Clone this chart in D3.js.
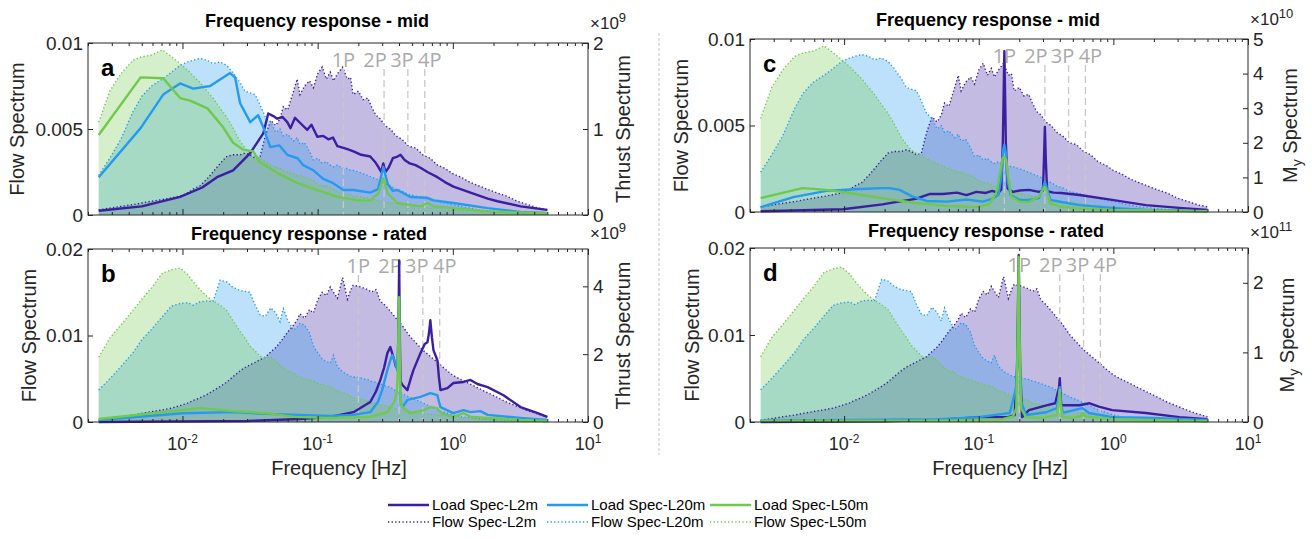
<!DOCTYPE html>
<html>
<head>
<meta charset="utf-8">
<script src="https://cdn.jsdelivr.net/npm/d3@7"></script>
<style>
  body { margin: 0; background: #fff; }
  text { font-family: "Liberation Sans", Arial, sans-serif; fill: #262626; }
</style>
</head>
<body>
<script>
// ---- data ----
var flowFreq = [0.0024,0.0029,0.0035,0.0043,0.005,0.0059,0.0071,0.0083,0.0096,0.011,
  0.012,0.0135,0.0152,0.0168,0.019,0.0212,0.0235,0.0266,0.029,0.0315,
  0.0345,0.0375,0.041,0.045,0.049,0.0527,0.0557,0.06,0.0663,0.0705,
  0.074,0.08,0.087,0.093,0.1,0.108,0.116,0.124,0.131,0.14,
  0.153,0.166,0.175,0.183,0.2,0.217,0.235,0.25,0.27,0.29,
  0.315,0.345,0.38,0.42,0.47,0.53,0.6,0.68,0.77,0.88,
  1.0,1.15,1.34,1.55,1.8,2.1,2.5,3.0,3.6,4.3,5.0];

// flow spectra, mid wind speed (panels a, c)
var flowMidL2 = [0.0003,0.0004,0.0005,0.0006,0.0007,0.0008,0.0009,0.0010,0.0011,0.0013,
  0.0015,0.0017,0.0021,0.0025,0.0030,0.0034,0.0035,0.0035,0.0036,0.0035,
  0.0033,0.0034,0.0046,0.0055,0.0052,0.0056,0.0063,0.0061,0.0072,0.0079,
  0.0070,0.0075,0.0078,0.0074,0.0082,0.0086,0.0079,0.0083,0.0078,0.0082,
  0.0086,0.0079,0.0080,0.0070,0.0072,0.0067,0.0068,0.0063,0.0058,0.0056,
  0.0052,0.0050,0.0046,0.0044,0.0040,0.0039,0.0035,0.0033,0.0029,0.0027,
  0.0024,0.0022,0.0019,0.0017,0.0015,0.0013,0.0011,0.0008,0.0006,0.0004,0.0003];
var flowMidL20 = [0.0023,0.0033,0.0044,0.0060,0.0069,0.0075,0.0079,0.0083,0.0087,0.0089,
  0.0090,0.0091,0.0090,0.0088,0.0089,0.0087,0.0083,0.0077,0.0072,0.0071,
  0.0070,0.0064,0.0057,0.0054,0.0048,0.0050,0.0046,0.0047,0.0043,0.0045,
  0.0041,0.0042,0.0037,0.0032,0.0033,0.0030,0.0031,0.0029,0.0028,0.0029,
  0.0027,0.0027,0.0026,0.0026,0.0025,0.0024,0.0023,0.0022,0.0021,0.0020,
  0.0018,0.0017,0.0015,0.0014,0.0012,0.0011,0.0010,0.0009,0.0008,0.0007,
  0.0006,0.0005,0.0004,0.0003,0.00025,0.0002,0.00015,0.00012,0.0001,0.00007,0.00005];
var flowMidL50 = [0.0054,0.0072,0.0082,0.0090,0.0092,0.0093,0.0096,0.0092,0.0088,0.0084,
  0.0081,0.0077,0.0072,0.0068,0.0062,0.0057,0.0051,0.0043,0.0039,0.0036,
  0.0034,0.0033,0.0031,0.0029,0.0028,0.0027,0.0026,0.0025,0.0024,0.0023,
  0.0023,0.0022,0.0021,0.0020,0.0018,0.0017,0.0017,0.0016,0.0015,0.0014,
  0.0013,0.0012,0.0012,0.0011,0.0011,0.0010,0.0010,0.0009,0.0009,0.0008,
  0.0008,0.0007,0.0007,0.0006,0.0006,0.0005,0.0005,0.0004,0.0004,0.0003,
  0.0003,0.00025,0.0002,0.00018,0.00015,0.00012,0.0001,0.00008,0.00006,0.00005,0.00004];

// flow spectra, rated wind speed (panels b, d)
var flowRatedL2 = [0.0002,0.0004,0.0006,0.0008,0.0010,0.0012,0.0014,0.0016,0.0019,0.0022,
  0.0025,0.0028,0.0032,0.0036,0.0041,0.0046,0.0052,0.0059,0.0063,0.0066,
  0.0069,0.0072,0.0075,0.0081,0.0086,0.0092,0.0097,0.0104,0.0112,0.0118,
  0.0125,0.0120,0.0130,0.0126,0.0141,0.0150,0.0146,0.0156,0.0150,0.0143,
  0.0167,0.0142,0.0152,0.0158,0.0157,0.0155,0.0153,0.0150,0.0153,0.0140,
  0.0135,0.0128,0.0120,0.0112,0.0101,0.0092,0.0083,0.0076,0.0069,0.0061,
  0.0054,0.0049,0.0044,0.0039,0.0034,0.0029,0.0023,0.0018,0.0013,0.0009,0.0006];
var flowRatedL20 = [0.0037,0.0050,0.0064,0.0080,0.0095,0.0107,0.0122,0.0134,0.0137,0.0138,
  0.0135,0.0139,0.0140,0.0139,0.0164,0.0162,0.0156,0.0152,0.0151,0.0150,
  0.0135,0.0124,0.0122,0.0132,0.0126,0.0116,0.0131,0.0118,0.0106,0.0110,
  0.0114,0.0112,0.0103,0.0088,0.0080,0.0073,0.0070,0.0068,0.0077,0.0064,
  0.0058,0.0055,0.0053,0.0052,0.0052,0.0050,0.0049,0.0047,0.0046,0.0044,
  0.0042,0.0040,0.0036,0.0033,0.0029,0.0026,0.0022,0.0018,0.0014,0.0011,
  0.0008,0.0006,0.0005,0.0004,0.0003,0.00025,0.0002,0.00015,0.0001,0.00008,0.00005];
var flowRatedL50 = [0.0075,0.0097,0.0112,0.0129,0.0142,0.0155,0.0172,0.0176,0.0178,0.0170,
  0.0162,0.0153,0.0145,0.0140,0.0135,0.0129,0.0118,0.0105,0.0097,0.0088,
  0.0082,0.0076,0.0074,0.0075,0.0071,0.0066,0.0062,0.0059,0.0057,0.0053,
  0.0052,0.0050,0.0049,0.0047,0.0045,0.0043,0.0042,0.0041,0.0039,0.0036,
  0.0034,0.0032,0.0030,0.0029,0.0027,0.0026,0.0024,0.0022,0.0021,0.0020,
  0.0019,0.0017,0.0015,0.0014,0.0012,0.0011,0.0010,0.0009,0.0008,0.0007,
  0.0006,0.0005,0.0004,0.00035,0.0003,0.00025,0.0002,0.00015,0.0001,0.00008,0.00005];

// load spectra as [frequency, value] in units of the right-axis exponent
var thrustMidL2 = [[0.0024,0.05],[0.005,0.1],[0.0096,0.21],[0.014,0.32],[0.018,0.44],[0.0237,0.52],
  [0.0317,0.72],[0.0396,0.95],[0.0431,1.18],[0.047,1.15],[0.0502,1.12],[0.055,1.14],[0.0596,1.08],
  [0.063,1.01],[0.068,1.13],[0.0743,1.07],[0.0838,0.99],[0.09,1.05],[0.0994,0.91],[0.11,0.92],
  [0.12,0.88],[0.13,0.90],[0.14,0.80],[0.155,0.78],[0.17,0.76],[0.184,0.74],[0.21,0.70],[0.245,0.68],
  [0.265,0.62],[0.281,0.56],[0.295,0.50],[0.306,0.60],[0.317,0.50],[0.335,0.55],[0.36,0.66],
  [0.39,0.68],[0.41,0.70],[0.44,0.64],[0.48,0.60],[0.53,0.58],[0.576,0.55],[0.649,0.50],[0.769,0.44],
  [0.88,0.38],[1.01,0.33],[1.35,0.26],[1.81,0.19],[2.14,0.16],[3.17,0.10],[5.0,0.06]];
var thrustMidL20 = [[0.0024,0.44],[0.0049,1.01],[0.0072,1.40],[0.0096,1.53],[0.012,1.47],[0.016,1.50],
  [0.02,1.60],[0.0225,1.65],[0.0245,1.60],[0.0267,1.30],[0.0317,1.08],[0.0363,1.16],[0.0396,1.02],
  [0.0446,0.79],[0.052,0.81],[0.0596,0.70],[0.071,0.66],[0.078,0.58],[0.093,0.52],[0.11,0.42],
  [0.13,0.37],[0.155,0.29],[0.184,0.29],[0.245,0.26],[0.28,0.30],[0.306,0.56],[0.33,0.36],[0.36,0.28],
  [0.389,0.29],[0.485,0.21],[0.649,0.20],[0.72,0.17],[1.01,0.14],[1.81,0.08],[3.17,0.035],[5.0,0.02]];
var thrustMidL50 = [[0.0024,0.93],[0.0049,1.60],[0.0072,1.59],[0.0096,1.36],[0.0114,1.33],[0.0153,1.24],
  [0.02,1.02],[0.0237,0.84],[0.028,0.76],[0.0334,0.74],[0.037,0.62],[0.05,0.49],[0.071,0.37],
  [0.0994,0.29],[0.14,0.21],[0.2,0.17],[0.245,0.17],[0.281,0.25],[0.306,0.43],[0.33,0.25],[0.389,0.14],
  [0.576,0.10],[0.649,0.14],[0.72,0.10],[1.01,0.08],[1.81,0.04],[5.0,0.02]];

var thrustRatedL2 = [[0.0024,0.0],[0.03,0.03],[0.074,0.09],[0.124,0.15],[0.184,0.29],[0.245,0.59],[0.27,0.9],
  [0.291,1.24],[0.31,1.6],[0.328,2.03],[0.345,2.21],[0.363,1.91],[0.38,1.62],[0.392,1.7],[0.397,3.2],
  [0.401,4.76],[0.405,2.6],[0.41,1.2],[0.424,1.09],[0.461,0.94],[0.49,1.3],[0.511,1.53],[0.576,2.03],
  [0.62,2.3],[0.649,2.35],[0.665,2.6],[0.682,3.0],[0.70,2.5],[0.719,2.12],[0.769,1.82],[0.79,1.3],
  [0.81,0.94],[0.912,1.0],[1.01,1.15],[1.2,1.18],[1.35,1.24],[1.52,1.12],[1.81,1.03],[2.37,0.79],
  [3.17,0.44],[4.24,0.26],[5.0,0.15]];
var thrustRatedL20 = [[0.0024,0.06],[0.0101,0.26],[0.0237,0.29],[0.0424,0.24],[0.124,0.18],[0.184,0.21],
  [0.245,0.29],[0.28,0.6],[0.30,0.94],[0.328,1.53],[0.35,1.9],[0.357,1.97],[0.376,1.74],[0.39,1.5],
  [0.397,2.8],[0.401,3.5],[0.405,1.5],[0.41,0.6],[0.424,0.44],[0.461,0.65],[0.576,0.74],[0.682,0.85],
  [0.769,0.79],[0.79,0.6],[0.81,0.44],[1.01,0.26],[1.2,0.35],[1.35,0.29],[1.6,0.32],[1.81,0.21],
  [3.17,0.12],[5.0,0.06]];
var thrustRatedL50 = [[0.0024,0.09],[0.0135,0.41],[0.0237,0.32],[0.0424,0.26],[0.066,0.15],[0.124,0.12],
  [0.245,0.15],[0.328,0.29],[0.37,0.6],[0.385,0.9],[0.393,1.6],[0.397,3.0],[0.401,3.68],[0.405,1.8],
  [0.41,0.6],[0.424,0.44],[0.485,0.26],[0.61,0.35],[0.682,0.44],[0.769,0.41],[0.81,0.26],[1.01,0.15],
  [1.2,0.26],[1.35,0.16],[1.81,0.12],[3.17,0.06],[5.0,0.03]];

var myMidL2 = [[0.0024,0.02],[0.0098,0.08],[0.0193,0.22],[0.0229,0.27],[0.034,0.38],[0.043,0.52],
  [0.054,0.52],[0.069,0.56],[0.081,0.49],[0.096,0.58],[0.113,0.55],[0.126,0.61],[0.14,0.55],[0.147,0.65],
  [0.151,2.0],[0.155,4.65],[0.159,2.0],[0.164,0.68],[0.18,0.58],[0.2,0.62],[0.236,0.64],[0.28,0.58],
  [0.3,0.62],[0.305,1.5],[0.31,2.46],[0.315,1.5],[0.322,0.6],[0.36,0.56],[0.41,0.55],[0.56,0.49],
  [0.98,0.35],[1.74,0.2],[3.1,0.12],[5.0,0.06]];
var myMidL20 = [[0.0024,0.14],[0.0042,0.43],[0.0074,0.61],[0.011,0.65],[0.019,0.69],[0.0217,0.69],
  [0.0258,0.64],[0.032,0.45],[0.041,0.32],[0.058,0.30],[0.081,0.36],[0.107,0.30],[0.126,0.38],[0.14,0.5],
  [0.147,1.0],[0.152,1.8],[0.155,1.94],[0.159,1.7],[0.164,0.9],[0.172,0.5],[0.2,0.35],[0.236,0.35],
  [0.28,0.4],[0.3,0.7],[0.31,0.87],[0.32,0.7],[0.34,0.35],[0.41,0.29],[0.56,0.2],[0.98,0.12],
  [1.74,0.06],[5.0,0.02]];
var myMidL50 = [[0.0024,0.40],[0.0049,0.69],[0.0074,0.64],[0.011,0.55],[0.019,0.40],[0.034,0.26],
  [0.06,0.17],[0.096,0.14],[0.12,0.23],[0.135,0.55],[0.145,1.2],[0.15,1.55],[0.155,1.59],[0.16,1.5],
  [0.166,1.0],[0.175,0.45],[0.2,0.3],[0.236,0.29],[0.28,0.45],[0.3,0.65],[0.31,0.72],[0.32,0.6],
  [0.34,0.25],[0.41,0.15],[0.56,0.1],[0.98,0.06],[5.0,0.02]];

var myRatedL2 = [[0.0024,0.0],[0.02,0.01],[0.05,0.03],[0.101,0.07],[0.166,0.07],[0.185,0.1],[0.193,0.8],
  [0.198,2.4],[0.203,0.8],[0.21,0.07],[0.236,0.17],[0.318,0.24],[0.37,0.27],[0.395,0.5],[0.4,0.63],
  [0.405,0.4],[0.41,0.24],[0.56,0.24],[0.66,0.27],[0.78,0.22],[0.98,0.17],[1.74,0.13],[3.1,0.07],[5.0,0.04]];
var myRatedL20 = [[0.0024,0.02],[0.05,0.04],[0.1,0.07],[0.17,0.13],[0.19,0.5],[0.195,1.2],[0.198,2.0],
  [0.201,1.0],[0.206,0.3],[0.224,0.1],[0.318,0.14],[0.38,0.2],[0.395,0.4],[0.4,0.5],[0.405,0.3],
  [0.42,0.13],[0.586,0.2],[0.66,0.13],[0.98,0.07],[1.74,0.06],[5.0,0.03]];
var myRatedL50 = [[0.0024,0.02],[0.05,0.02],[0.15,0.04],[0.18,0.08],[0.19,0.2],[0.195,1.2],[0.198,2.37],
  [0.201,1.2],[0.206,0.2],[0.224,0.07],[0.3,0.06],[0.38,0.1],[0.395,0.3],[0.4,0.46],[0.405,0.25],
  [0.42,0.07],[0.5,0.06],[0.58,0.09],[0.6,0.13],[0.62,0.08],[0.98,0.04],[5.0,0.01]];

var orderNames = ['1P', '2P', '3P', '4P'];
var ordersMid = [0.155, 0.31, 0.465, 0.62];
var ordersRated = [0.2, 0.4, 0.6, 0.8];

var seriesNames = ['L2m', 'L20m', 'L50m'];
var seriesColors = ['#3b1fa3', '#259bef', '#6fc94b'];

// ---- layout ----
var svg = d3.select('body').append('svg')
    .attr('width', 1312)
    .attr('height', 539);

var panels = [
  {letter: 'a', x0: 88, x1: 588, y0: 43, y1: 215, title: 'Frequency response - mid', titleX: 317, titleY: 27,
   flow: [flowMidL2, flowMidL20, flowMidL50], load: [thrustMidL2, thrustMidL20, thrustMidL50],
   fMax: 0.01, fTicks: [0, 0.005, 0.01], lMax: 2, lTicks: [0, 1, 2], exp: '9', expDy: -14, rLabel: 'thrust',
   orders: ordersMid, xLabels: false, lLabX: 17, rLabX: 623},
  {letter: 'b', x0: 88, x1: 588, y0: 249, y1: 422, title: 'Frequency response - rated', titleX: 309, titleY: 240,
   flow: [flowRatedL2, flowRatedL20, flowRatedL50], load: [thrustRatedL2, thrustRatedL20, thrustRatedL50],
   fMax: 0.02, fTicks: [0, 0.01, 0.02], lMax: 5.1, lTicks: [0, 2, 4], exp: '9', expDy: -10, rLabel: 'thrust',
   orders: ordersRated, xLabels: true, lLabX: 29, rLabX: 623},
  {letter: 'c', x0: 750, x1: 1248, y0: 39, y1: 212, title: 'Frequency response - mid', titleX: 988, titleY: 26,
   flow: [flowMidL2, flowMidL20, flowMidL50], load: [myMidL2, myMidL20, myMidL50],
   fMax: 0.01, fTicks: [0, 0.005, 0.01], lMax: 5, lTicks: [0, 1, 2, 3, 4, 5], exp: '10', expDy: -14, rLabel: 'my',
   orders: ordersMid, xLabels: false, lLabX: 681, rLabX: 1290},
  {letter: 'd', x0: 750, x1: 1248, y0: 248, y1: 422, title: 'Frequency response - rated', titleX: 986, titleY: 237,
   flow: [flowRatedL2, flowRatedL20, flowRatedL50], load: [myRatedL2, myRatedL20, myRatedL50],
   fMax: 0.02, fTicks: [0, 0.01, 0.02], lMax: 2.5, lTicks: [0, 1, 2], exp: '11', expDy: -10, rLabel: 'my',
   orders: ordersRated, xLabels: true, lLabX: 692, rLabX: 1287}
];

var orderLabelDx = [0, -9, -6, 5];
var axisColor = '#262626';

// dashed separator between the two columns
svg.append('line')
    .attr('x1', 659).attr('x2', 659).attr('y1', 33).attr('y2', 455)
    .attr('stroke', '#c4c4c4').attr('stroke-dasharray', '3,2');

function fmt(d) { return d === 0 ? '0' : String(d); }

panels.forEach(function(p) {
  var g = svg.append('g');

  var x = d3.scaleLog().domain([0.002, 10]).range([p.x0, p.x1]);
  var yL = d3.scaleLinear().domain([0, p.fMax]).range([p.y1, p.y0]);
  var yR = d3.scaleLinear().domain([0, p.lMax]).range([p.y1, p.y0]);

  var area = d3.area()
      .x(function(d, i) { return x(flowFreq[i]); })
      .y0(p.y1)
      .y1(function(d) { return yL(d); });
  var flowLine = d3.line()
      .x(function(d, i) { return x(flowFreq[i]); })
      .y(function(d) { return yL(d); });
  var loadLine = d3.line()
      .x(function(d) { return x(d[0]); })
      .y(function(d) { return yR(d[1]); });

  // flow spectra: translucent fills with dotted edges
  p.flow.forEach(function(s, k) {
    g.append('path').attr('d', area(s))
        .attr('fill', seriesColors[k]).attr('fill-opacity', 0.3);
  });
  p.flow.forEach(function(s, k) {
    g.append('path').attr('d', flowLine(s))
        .attr('fill', 'none').attr('stroke', seriesColors[k])
        .attr('stroke-width', 1.4).attr('stroke-dasharray', '1.3,2.3');
  });

  // rotor harmonics
  p.orders.forEach(function(f, i) {
    g.append('line')
        .attr('x1', x(f)).attr('x2', x(f))
        .attr('y1', p.y0 + 26).attr('y2', p.y1)
        .attr('stroke', '#c8c8c8').attr('stroke-width', 1.3)
        .attr('stroke-dasharray', '7,4');
    g.append('text')
        .attr('x', x(f) + orderLabelDx[i]).attr('y', p.y0 + 24)
        .attr('text-anchor', 'middle')
        .style('font-family', '"Open Sans", sans-serif')
        .style('font-size', '20px')
        .style('fill', '#aaaaaa')
        .text(orderNames[i]);
  });

  // load spectra
  p.load.forEach(function(s, k) {
    g.append('path').attr('d', loadLine(s))
        .attr('fill', 'none').attr('stroke', seriesColors[k])
        .attr('stroke-width', 2.4).attr('stroke-linejoin', 'round');
  });

  // box
  g.append('rect')
      .attr('x', p.x0).attr('y', p.y0)
      .attr('width', p.x1 - p.x0).attr('height', p.y1 - p.y0)
      .attr('fill', 'none').attr('stroke', axisColor).attr('stroke-width', 1);

  // x ticks (log, inside, top and bottom)
  var all = x.ticks();
  var majors = all.filter(function(t) { return Math.abs(Math.log10(t) - Math.round(Math.log10(t))) < 1e-9; });
  var minors = all.filter(function(t) { return majors.indexOf(t) < 0; });
  [[d3.axisBottom, p.y1], [d3.axisTop, p.y0]].forEach(function(a) {
    var ax = g.append('g').attr('transform', 'translate(0,' + a[1] + ')')
        .call(a[0](x).tickValues(minors).tickSize(-3).tickFormat(''));
    ax.select('.domain').remove();
    ax.selectAll('line').attr('stroke', axisColor);
    var axM = g.append('g').attr('transform', 'translate(0,' + a[1] + ')')
        .call(a[0](x).tickValues(majors).tickSize(-6).tickFormat(''));
    axM.select('.domain').remove();
    axM.selectAll('line').attr('stroke', axisColor);
  });

  if (p.xLabels) {
    majors.forEach(function(t) {
      var e = Math.round(Math.log10(t));
      var tx = g.append('text')
          .attr('x', x(t)).attr('y', p.y1 + 28)
          .attr('text-anchor', 'middle')
          .style('font-size', '18px');
      tx.append('tspan').text('10');
      tx.append('tspan').attr('dy', -7).style('font-size', '12px').text(e);
    });
    g.append('text')
        .attr('x', (p.x0 + p.x1) / 2 + 1).attr('y', p.y1 + 53)
        .attr('text-anchor', 'middle')
        .style('font-size', '20px')
        .text('Frequency [Hz]');
  }

  // left axis
  var axL = g.append('g').attr('transform', 'translate(' + p.x0 + ',0)')
      .call(d3.axisLeft(yL).tickValues(p.fTicks).tickSize(-5).tickPadding(5).tickFormat(fmt));
  axL.select('.domain').remove();
  axL.selectAll('line').attr('stroke', axisColor);
  axL.selectAll('text').style('font-size', '19px');
  axL.attr('font-family', null).attr('font-size', null);

  // right axis
  var axR = g.append('g').attr('transform', 'translate(' + p.x1 + ',0)')
      .call(d3.axisRight(yR).tickValues(p.lTicks).tickSize(-5).tickPadding(5).tickFormat(fmt));
  axR.select('.domain').remove();
  axR.selectAll('line').attr('stroke', axisColor);
  axR.selectAll('text').style('font-size', '19px');
  axR.attr('font-family', null).attr('font-size', null);

  // exponent
  var ex = g.append('text').attr('x', p.x1 + 2).attr('y', p.y0 + p.expDy).style('font-size', '17px');
  ex.append('tspan').text('\u00d710');
  ex.append('tspan').attr('dy', -7).style('font-size', '13px').text(p.exp);

  // axis labels
  g.append('text')
      .attr('transform', 'translate(' + p.lLabX + ',' + (p.y0 + p.y1) / 2 + ') rotate(-90)')
      .attr('text-anchor', 'middle').attr('dy', '0.35em')
      .style('font-size', '20px')
      .text('Flow Spectrum');
  var rl = g.append('text')
      .attr('transform', 'translate(' + p.rLabX + ',' + (p.y0 + p.y1) / 2 + ') rotate(-90)')
      .attr('text-anchor', 'middle').attr('dy', '0.35em')
      .style('font-size', '20px');
  if (p.rLabel === 'thrust') {
    rl.text('Thrust Spectrum');
  } else {
    rl.append('tspan').text('M');
    rl.append('tspan').attr('dy', 5).style('font-size', '14px').text('y');
    rl.append('tspan').attr('dy', -5).text(' Spectrum');
  }

  // title and panel letter
  g.append('text')
      .attr('x', p.titleX).attr('y', p.titleY)
      .attr('text-anchor', 'middle')
      .style('font-size', '18px').style('font-weight', 'bold').style('fill', '#000')
      .text(p.title);
  g.append('text')
      .attr('x', p.x0 + 13).attr('y', p.y0 + 33)
      .style('font-size', '24px').style('font-weight', 'bold').style('fill', '#000')
      .text(p.letter);
});

// legend
var legendX = [388, 547, 710];
var legendY = [505, 522];
seriesNames.forEach(function(n, k) {
  [0, 1].forEach(function(r) {
    svg.append('line')
        .attr('x1', legendX[k]).attr('x2', legendX[k] + 41)
        .attr('y1', legendY[r]).attr('y2', legendY[r])
        .attr('stroke', seriesColors[k])
        .attr('stroke-width', r === 0 ? 2.4 : 1.4)
        .attr('stroke-dasharray', r === 0 ? null : '1.3,2.3');
    svg.append('text')
        .attr('x', legendX[k] + 44).attr('y', legendY[r] + 5)
        .style('font-size', '15px').style('fill', '#000')
        .text((r === 0 ? 'Load Spec-' : 'Flow Spec-') + n);
  });
});
</script>
</body>
</html>
